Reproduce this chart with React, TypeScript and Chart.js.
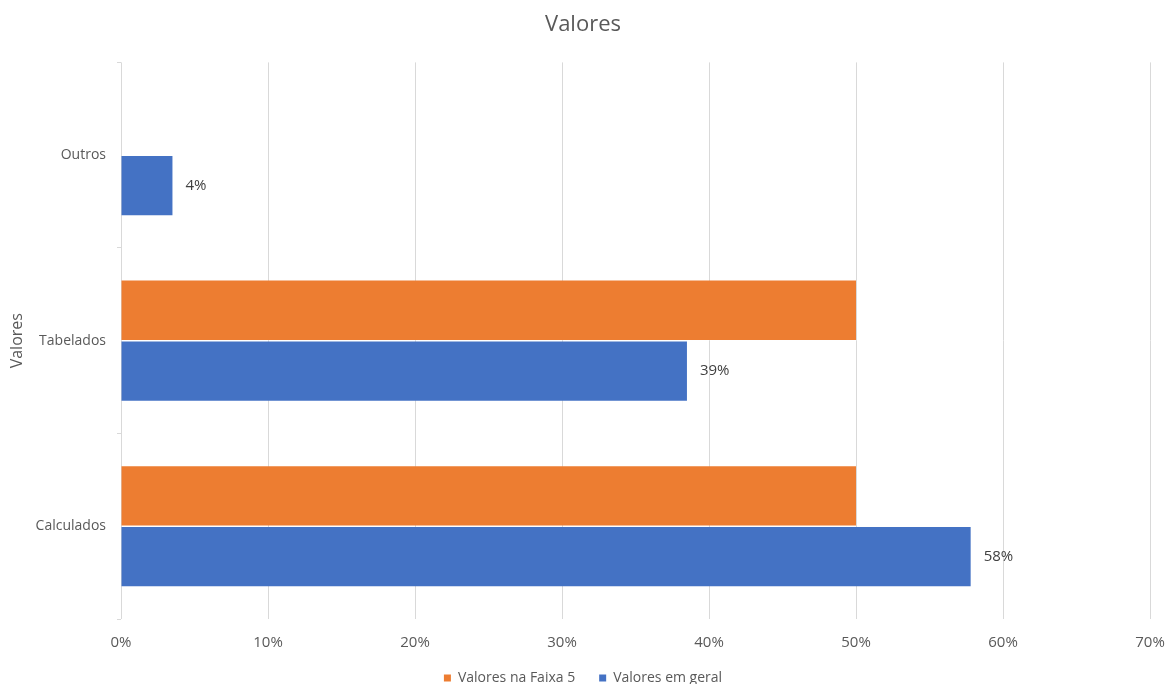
import React, { useEffect, useRef } from "react";
import { Chart, registerables } from "chart.js";

Chart.register(...registerables);

const categories = ["Outros", "Tabelados", "Calculados"];
const faixa5Values: (number | null)[] = [null, 50, 50];
const geralValues: number[] = [3.5, 38.5, 57.8];
const xTicks = [0, 10, 20, 30, 40, 50, 60, 70];
const seriesNames = ["Valores na Faixa 5", "Valores em geral"];

const FONT = "'Open Sans', sans-serif";
const TEXT = "#595959";

const dataLabelPlugin = {
  id: "dataLabels",
  afterDatasetsDraw(chart: any) {
    const ctx = chart.ctx;
    const meta = chart.getDatasetMeta(1);
    ctx.save();
    ctx.font = `15px ${FONT}`;
    ctx.fillStyle = "#404040";
    ctx.textAlign = "left";
    ctx.textBaseline = "middle";
    meta.data.forEach((bar: any, i: number) => {
      const v = geralValues[i];
      if (v == null) return;
      ctx.fillText(Math.round(v) + "%", bar.x + 13, bar.y);
    });
    ctx.restore();
  },
};

export default function App() {
  const ref = useRef<HTMLCanvasElement>(null);
  useEffect(() => {
    if (!ref.current) return;
    const chart = new Chart(ref.current, {
      type: "bar",
      data: {
        labels: categories,
        datasets: [
          {
            label: seriesNames[0],
            data: faixa5Values,
            backgroundColor: "#ED7D31",
            categoryPercentage: 0.656,
            barPercentage: 0.975,
          },
          {
            label: seriesNames[1],
            data: geralValues,
            backgroundColor: "#4472C4",
            categoryPercentage: 0.656,
            barPercentage: 0.975,
          },
        ],
      },
      options: {
        indexAxis: "y",
        animation: false,
        responsive: false,
        layout: { padding: { left: 0, right: 0, top: 0, bottom: 0 } },
        scales: {
          x: {
            min: 0,
            max: 70,
            afterBuildTicks: (s: any) => {
              s.ticks = xTicks.map((v) => ({ value: v }));
            },
            afterFit: (s: any) => {
              s.height = 28;
              s.paddingRight = 16;
              s.paddingLeft = 0;
            },
            ticks: {
              callback: (v: any) => v + "%",
              color: TEXT,
              font: { family: FONT, size: 15 },
              padding: 15,
              maxRotation: 0,
            },
            grid: { color: "#D9D9D9", drawTicks: false, lineWidth: 1 },
            border: { display: false },
          },
          y: {
            afterFit: (s: any) => {
              s.width = 121;
            },
            ticks: {
              color: TEXT,
              font: { family: FONT, size: 14 },
              padding: 11,
            },
            grid: {
              offset: true,
              drawOnChartArea: false,
              drawTicks: true,
              tickLength: 4,
              color: "#D9D9D9",
            },
            border: { display: false },
            title: {
              display: true,
              text: "Valores",
              color: TEXT,
              font: { family: FONT, size: 16 },
              padding: { top: 8, bottom: 0 },
            },
          },
        },
        plugins: {
          title: {
            display: true,
            text: "Valores",
            color: TEXT,
            font: { family: FONT, size: 22, weight: "normal" },
            padding: { top: 12, bottom: 24 },
          },
          legend: {
            position: "bottom",
            labels: {
              color: TEXT,
              font: { family: FONT, size: 14 },
              usePointStyle: true,
              pointStyle: "rect",
              boxWidth: 7,
              boxHeight: 7,
              padding: 24,
            },
          },
          tooltip: { enabled: false },
        },
      },
      plugins: [dataLabelPlugin],
    } as any);
    return () => chart.destroy();
  }, []);
  return (
    <div style={{ position: "fixed", left: 0, top: 0, width: 1166, height: 695, background: "#fff" }}>
      <canvas ref={ref} width={1166} height={695} />
    </div>
  );
}
